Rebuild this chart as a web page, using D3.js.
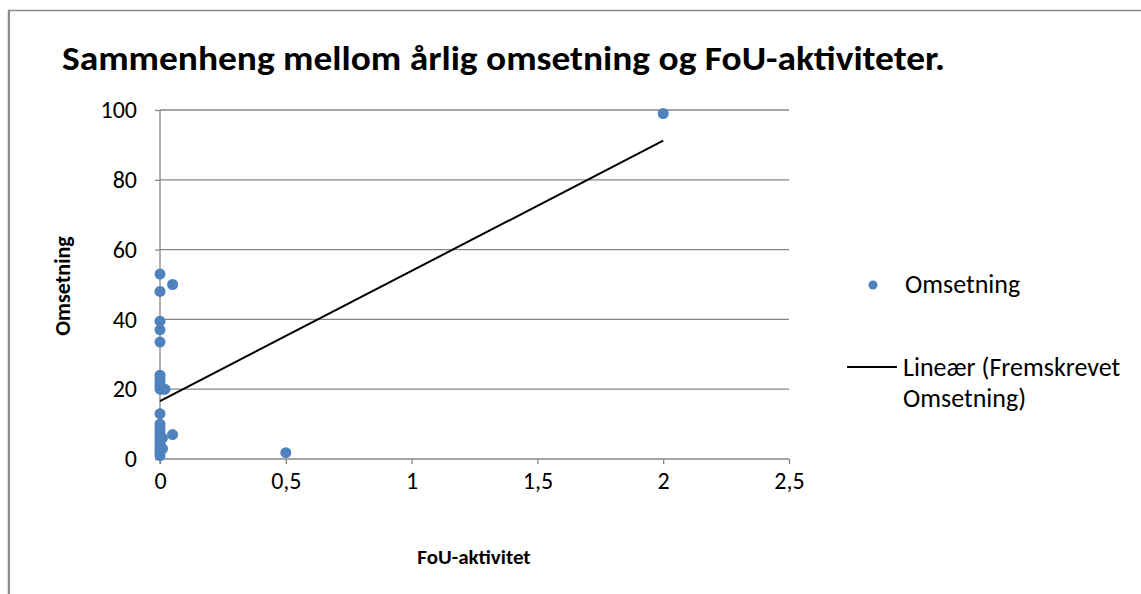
<!DOCTYPE html>
<html>
<head>
<meta charset="utf-8">
<script src="https://cdn.jsdelivr.net/npm/d3@7"></script>
<style>
    body { margin: 0; background: #fff; }
    text { font-family: Carlito, Calibri, "Open Sans", "Liberation Sans", sans-serif; fill: #000; }
</style>
</head>
<body>
<div class="visHolder"></div>
<script>
// Omsetning vs FoU-aktivitet
const fouX = [0, 0, 0.05, 0, 0, 0, 0, 0, 0, 0, 0, 0.01, 0.02, 0, 0, 0, 0, 0, 0, 0, 0, 0, 0, 0, 0.05, 0.01, 0.01, 0.5, 2];
const omsY = [53, 48, 50, 39.5, 37, 33.5, 24, 23, 22, 21, 20, 20, 20, 13, 10, 9, 8, 7, 6, 5, 4, 3, 2, 1, 7, 3, 6, 1.8, 99];

// trend line (Lineær (Fremskrevet Omsetning))
const trendX = [0, 2];
const trendY = [16.6, 91.2];

const xTicks = [0, 0.5, 1, 1.5, 2, 2.5];
const yTicks = [0, 20, 40, 60, 80, 100];

const W = 1141, H = 594;
const plotLeft = 160, plotRight = 789, plotTop = 110, plotBottom = 459;
const fontStack = "Carlito, Calibri, 'Open Sans', 'Liberation Sans', sans-serif";

const svg = d3.select(".visHolder")
    .append("svg")
    .attr("width", W)
    .attr("height", H);

// outer chart border
svg.append("rect")
    .attr("x", 8.5)
    .attr("y", 10.5)
    .attr("width", 1200)
    .attr("height", 700)
    .attr("fill", "none")
    .attr("stroke", "#8c8c8c")
    .attr("stroke-width", 1.5);
svg.append("line")
    .attr("x1", 9).attr("x2", 9)
    .attr("y1", 10).attr("y2", H)
    .attr("stroke", "#8c8c8c")
    .attr("stroke-width", 2);

const xScale = d3.scaleLinear().domain([0, 2.5]).range([plotLeft, plotRight]);
const yScale = d3.scaleLinear().domain([0, 100]).range([plotBottom, plotTop]);

const fmt = (d) => String(d).replace(".", ",");

// gridlines
svg.append("g")
    .selectAll("line")
    .data(yTicks.filter((d) => d > 0))
    .enter()
    .append("line")
    .attr("x1", plotLeft)
    .attr("x2", plotRight)
    .attr("y1", (d) => yScale(d))
    .attr("y2", (d) => yScale(d))
    .attr("stroke", "#868686")
    .attr("stroke-width", 1.3);

const xAxis = d3.axisBottom(xScale).tickValues(xTicks).tickFormat(fmt).tickSize(5).tickPadding(8);
const yAxis = d3.axisLeft(yScale).tickValues(yTicks).tickFormat(fmt).tickSize(5).tickPadding(18);

const gx = svg.append("g")
    .attr("id", "x-axis")
    .attr("transform", `translate(0, ${plotBottom})`)
    .call(xAxis);
const gy = svg.append("g")
    .attr("id", "y-axis")
    .attr("transform", `translate(${plotLeft}, 0)`)
    .call(yAxis);

[gx, gy].forEach((g) => {
    g.select(".domain").attr("stroke", "#868686").attr("stroke-width", 1.3);
    g.selectAll(".tick line").attr("stroke", "#868686").attr("stroke-width", 1.3);
    g.selectAll(".tick text")
        .style("font-family", fontStack)
        .style("font-size", "24px")
        .attr("fill", "#000");
});
gx.select(".domain").attr("d", `M${plotLeft},0H${plotRight}`);
gy.select(".domain").attr("d", `M0,${plotBottom + 5}V${plotTop}`);

// trend line
const line = d3.line()
    .x((d, i) => xScale(trendX[i]))
    .y((d) => yScale(d));
svg.append("path")
    .datum(trendY)
    .attr("d", line)
    .attr("fill", "none")
    .attr("stroke", "#000")
    .attr("stroke-width", 2);

// points
svg.append("g")
    .selectAll("circle")
    .data(omsY)
    .enter()
    .append("circle")
    .attr("cx", (d, i) => xScale(fouX[i]))
    .attr("cy", (d) => yScale(d))
    .attr("r", 5.5)
    .attr("fill", "#4f81bd");

// title
svg.append("text")
    .attr("x", 62)
    .attr("y", 70)
    .attr("textLength", 883)
    .attr("lengthAdjust", "spacingAndGlyphs")
    .style("font-size", "34px")
    .style("font-weight", "bold")
    .text("Sammenheng mellom årlig omsetning og FoU-aktiviteter.");

// axis titles
svg.append("text")
    .attr("transform", "translate(70, 286) rotate(-90)")
    .attr("text-anchor", "middle")
    .style("font-size", "22px")
    .style("font-weight", "bold")
    .text("Omsetning");

svg.append("text")
    .attr("x", 474)
    .attr("y", 564)
    .attr("text-anchor", "middle")
    .style("font-size", "21px")
    .style("font-weight", "bold")
    .text("FoU-aktivitet");

// legend
svg.append("circle")
    .attr("cx", 873)
    .attr("cy", 285)
    .attr("r", 4.5)
    .attr("fill", "#4f81bd");
svg.append("text")
    .attr("x", 905)
    .attr("y", 293)
    .style("font-size", "26px")
    .text("Omsetning");

svg.append("line")
    .attr("x1", 847)
    .attr("x2", 897)
    .attr("y1", 367)
    .attr("y2", 367)
    .attr("stroke", "#000")
    .attr("stroke-width", 2);
svg.append("text")
    .attr("x", 903)
    .attr("y", 376)
    .style("font-size", "26px")
    .text("Lineær (Fremskrevet");
svg.append("text")
    .attr("x", 903)
    .attr("y", 407)
    .style("font-size", "26px")
    .text("Omsetning)");
</script>
</body>
</html>
